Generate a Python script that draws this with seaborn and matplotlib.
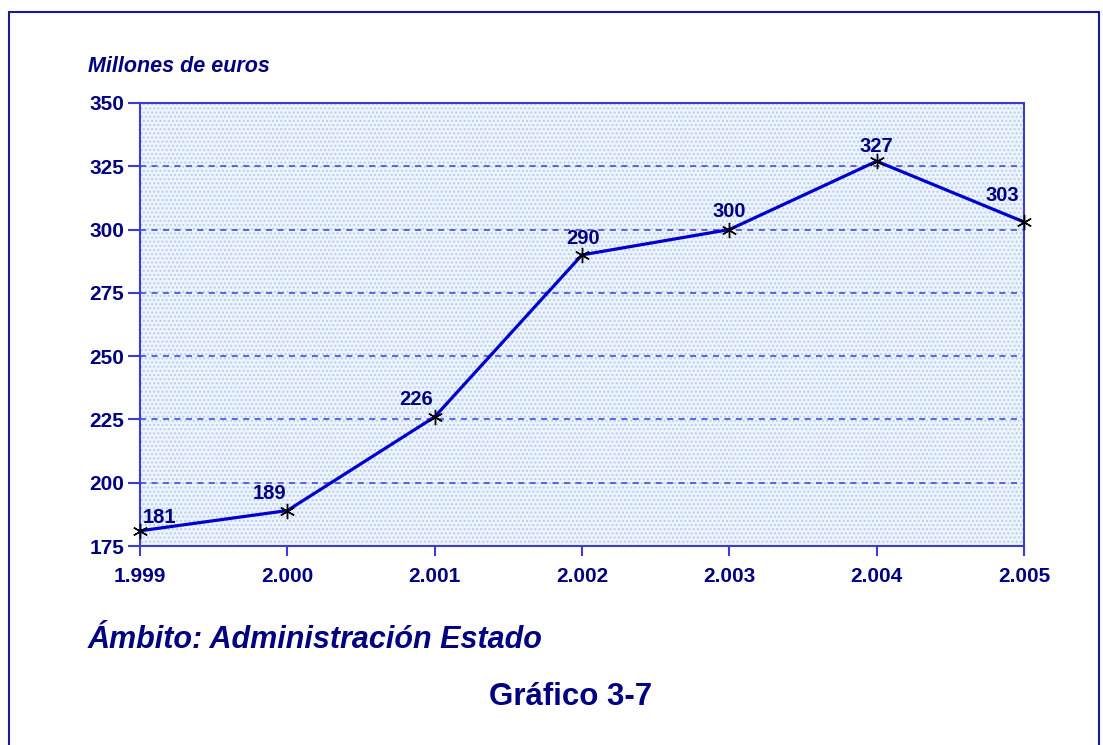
import matplotlib
matplotlib.use("Agg")
import matplotlib.pyplot as plt
import seaborn as sns
import pandas as pd
from matplotlib.patches import Rectangle

# data
years = [1999, 2000, 2001, 2002, 2003, 2004, 2005]
year_labels = ["1.999", "2.000", "2.001", "2.002", "2.003", "2.004", "2.005"]
values = [181, 189, 226, 290, 300, 327, 303]
y_ticks = [175, 200, 225, 250, 275, 300, 325, 350]

# label offsets in pixels (dx, dy) relative to each point
label_offsets = [(19, 13), (-18, 17), (-19, 17), (1, 16), (0, 18), (0, 15), (-22, 26)]

NAVY = "#000080"
BLUE = "#0000cc"
AXBLUE = "#3c3cd2"

sns.set_style("white")
plt.rcParams["font.family"] = ["Liberation Sans", "DejaVu Sans"]

df = pd.DataFrame({"year": years, "value": values})

fig = plt.figure(figsize=(11.03, 7.45), dpi=100)
fig.patch.set_facecolor("white")

# outer frame (bottom edge falls outside the image)
fig.patches.append(Rectangle((9 / 1103, -0.05), 1090 / 1103, 1.05 - 12 / 745,
                             transform=fig.transFigure, fill=False,
                             edgecolor="#1a1a99", linewidth=1.5))

ax = fig.add_axes([140 / 1103, 1 - 546 / 745, 884 / 1103, 443 / 745])
ax.set_facecolor("#eef4fd")
ax.add_patch(Rectangle((0, 0), 1, 1, transform=ax.transAxes, fill=False,
                       hatch="....", edgecolor="#b5cdf2", linewidth=0, zorder=0))

for yv in y_ticks[1:-1]:
    ax.axhline(yv, color=AXBLUE, linewidth=1.1, dashes=(4, 3.5), zorder=1)

sns.lineplot(data=df, x="year", y="value", ax=ax, color=BLUE, linewidth=2.3,
             marker=(6, 2, 0), markersize=11, markeredgecolor="black",
             markerfacecolor="black", markeredgewidth=1, zorder=3)
for ln in ax.lines:
    ln.set_clip_on(False)

for x, y, (dx, dy) in zip(years, values, label_offsets):
    ax.annotate(str(y), (x, y), xytext=(dx, dy), textcoords="offset pixels",
                ha="center", va="center", fontsize=14.5, fontweight="bold",
                color=NAVY, zorder=4)

ax.set_xlim(1999, 2005)
ax.set_ylim(175, 350)
ax.set_xticks(years)
ax.set_xticklabels(year_labels)
ax.set_yticks(y_ticks)
ax.tick_params(axis="x", bottom=True, direction="out", length=7, width=1.5,
               color=AXBLUE, labelcolor=NAVY, labelsize=15, pad=8)
ax.tick_params(axis="y", left=True, direction="out", length=8.5, width=1.5,
               color=AXBLUE, labelcolor=NAVY, labelsize=15, pad=3)
for lab in ax.get_xticklabels() + ax.get_yticklabels():
    lab.set_fontweight("bold")
for sp in ax.spines.values():
    sp.set_visible(True)
    sp.set_color(AXBLUE)
    sp.set_linewidth(1.5)
ax.set_xlabel("")
ax.set_ylabel("")

fig.text(88 / 1103, 1 - 67 / 745, "Millones de euros", fontsize=15.5,
         fontweight="bold", fontstyle="italic", color=NAVY, va="center")
fig.text(88 / 1103, 1 - 640 / 745, "Ámbito: Administración Estado", fontsize=22,
         fontweight="bold", fontstyle="italic", color=NAVY, va="center")
fig.text(571 / 1103, 1 - 697 / 745, "Gráfico 3-7", fontsize=22.5,
         fontweight="bold", color=NAVY, va="center", ha="center")

fig.savefig("out.png", dpi=100)
